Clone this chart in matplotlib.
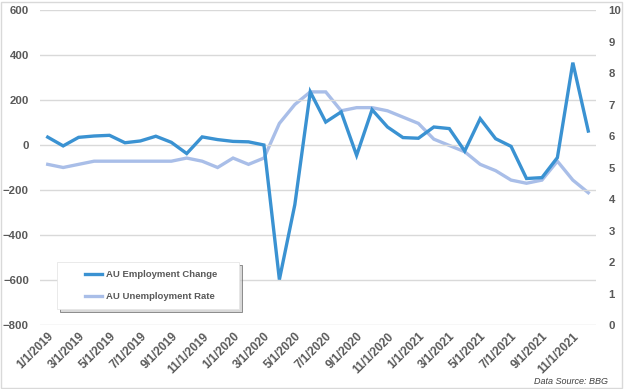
import numpy as np
import matplotlib
matplotlib.use("Agg")
import matplotlib.pyplot as plt
from matplotlib.patches import Rectangle, Shadow

plt.rcParams['font.family'] = ['Liberation Sans', 'DejaVu Sans']
plt.rcParams['font.weight'] = 'bold'

# monthly, Jan 2019 .. Dec 2021
months = ["%d/1/%d" % (m, y) for y in (2019, 2020, 2021) for m in range(1, 13)]

emp_change = [35, -4, 34, 40, 43, 10, 18, 39, 12, -38, 36, 24,
              16, 14, 0, -598, -265, 236, 102, 147, -46, 157, 80, 33,
              30, 80, 73, -27, 117, 28, -6, -149, -145, -56, 366, 62]

unemp_rate = [5.1, 5.0, 5.1, 5.2, 5.2, 5.2, 5.2, 5.2, 5.2, 5.3, 5.2, 5.0,
              5.3, 5.1, 5.3, 6.4, 7.0, 7.4, 7.4, 6.8, 6.9, 6.9, 6.8, 6.6,
              6.4, 5.9, 5.7, 5.5, 5.1, 4.9, 4.6, 4.5, 4.6, 5.2, 4.6, 4.2]

dark = '#3A92D2'
light = '#A9BEE8'
grey = '#595959'

fig = plt.figure(figsize=(6.24, 3.89), dpi=100)
ax = fig.add_axes([40/624, 1-325/389, 556/624, 315/389])
ax2 = ax.twinx()

x = np.arange(len(months))
ax2.plot(x, unemp_rate, color=light, lw=2.4, solid_joinstyle='miter')
ax.plot(x, emp_change, color=dark, lw=2.4, solid_joinstyle='miter', label='AU Employment Change')
ax.plot([], [], color=light, lw=2.4, label='AU Unemployment Rate')

ax.set_zorder(ax2.get_zorder() + 1)
ax.patch.set_visible(False)

ax.set_xlim(-0.5, len(months) - 0.5)
ax.set_ylim(-800, 600)
ax.set_yticks(range(-800, 601, 200))
ax2.set_ylim(0, 10)
ax2.set_yticks(range(0, 11))

ax.set_xticks(x[::2])
ax.set_xticklabels(months[::2], rotation=45, ha='right', va='top', rotation_mode='anchor')

ax2.grid(False)
ax.grid(axis='y', color='#D9D9D9', lw=1)
ax.set_axisbelow(True)
for a in (ax, ax2):
    for s in a.spines.values():
        s.set_visible(False)
    a.tick_params(length=0, labelcolor=grey, labelsize=8.2)
ax.tick_params(axis='y', pad=8)
ax.tick_params(axis='x', pad=4, labelsize=8.5)
ax2.tick_params(axis='y', pad=9)

# legend box with shadow
box = Rectangle((17/556, (325-309)/315), 182/556, 47/315, transform=ax.transAxes,
                facecolor='white', edgecolor='#E6E6E6', lw=0.6, zorder=4)
sh = Shadow(box, 2/556, -2/315, facecolor='#C8C8C8', alpha=0.7, zorder=3.9)
ax.add_patch(sh)
ax.add_patch(box)
leg = ax.legend(loc='center', bbox_to_anchor=(0.2, 0.125), frameon=False,
                fontsize=6.8, handlelength=1.8, handletextpad=0.35, labelspacing=1.35,
                labelcolor=grey)
leg.set_zorder(5)

fig.text(608/624, 1-382/389, 'Data Source: BBG', ha='right', va='center',
         fontsize=6.5, style='italic', fontweight='normal', color='#404040')
fig.patches.append(Rectangle((1/624, 1/389), 621/624, 386/389, transform=fig.transFigure,
                             fill=False, edgecolor='#D9D9D9', lw=1))

fig.savefig('out.png', dpi=100)
